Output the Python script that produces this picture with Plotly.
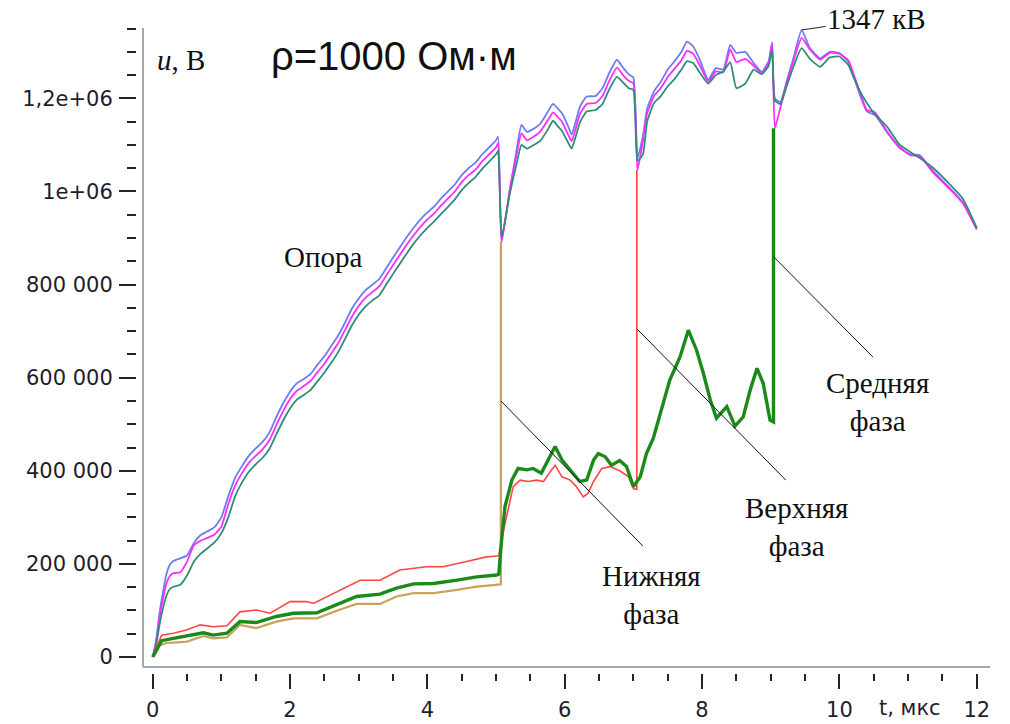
import plotly.graph_objects as go

# ---------------- data (t in мкс, u in кВ) ----------------
T_TOWER = [0.0, 0.05, 0.1, 0.15, 0.2, 0.25, 0.3, 0.4, 0.5, 0.6, 0.7, 0.8, 0.9, 1.0,
           1.1, 1.2, 1.3, 1.4, 1.5, 1.6, 1.7, 1.8, 1.9, 2.0, 2.1, 2.2, 2.3, 2.4, 2.5,
           2.6, 2.7, 2.8, 2.9, 3.0, 3.1, 3.2, 3.3, 3.4, 3.5, 3.6, 3.7, 3.8, 3.9, 4.0,
           4.1, 4.2, 4.3, 4.4, 4.5, 4.6, 4.7, 4.8, 4.9, 5.0, 5.03, 5.08, 5.2, 5.3,
           5.37, 5.45, 5.55, 5.64, 5.75, 5.83, 5.9, 5.96, 6.05, 6.1, 6.16, 6.22, 6.32,
           6.45, 6.55, 6.65, 6.76, 6.85, 6.93, 7.0, 7.06, 7.14, 7.2, 7.3, 7.4, 7.5,
           7.6, 7.7, 7.78, 7.87, 7.97, 8.09, 8.2, 8.31, 8.41, 8.5, 8.63, 8.75, 8.87,
           8.97, 9.02, 9.06, 9.14, 9.23, 9.33, 9.45, 9.57, 9.72, 9.86, 10.0, 10.13,
           10.2, 10.3, 10.4, 10.52, 10.69, 10.88, 11.03, 11.17, 11.37, 11.61, 11.8, 12.0]

U_TOWER_BLUE = [0, 35, 95, 140, 178, 198, 206, 212, 218, 245, 262, 270, 279, 300,
                345, 385, 410, 432, 448, 462, 482, 515, 545, 570, 588, 597, 608, 628, 646,
                668, 690, 718, 748, 770, 788, 800, 812, 835, 858, 880, 902, 922, 940, 955,
                968, 985, 1000, 1015, 1035, 1050, 1062, 1080, 1095, 1110, 1118, 895, 1000, 1090,
                1143, 1128, 1135, 1145, 1170, 1188, 1178, 1168, 1140, 1122, 1150, 1182, 1204,
                1205, 1222, 1255, 1283, 1266, 1252, 1245, 1072, 1120, 1178, 1215, 1236, 1262,
                1280, 1300, 1322, 1312, 1282, 1240, 1265, 1262, 1315, 1298, 1300, 1276, 1257,
                1280, 1320, 1200, 1192, 1236, 1286, 1347, 1308, 1286, 1300, 1297, 1279,
                1250, 1207, 1172, 1164, 1128, 1093, 1080, 1078, 1043, 1007, 976, 920]

U_TOWER_MAGENTA = [0, 30, 85, 125, 158, 174, 180, 182, 205, 240, 250, 256, 263, 280,
                   328, 368, 395, 417, 432, 446, 466, 498, 528, 554, 572, 582, 593, 612, 630,
                   652, 674, 702, 731, 754, 772, 784, 796, 819, 842, 864, 886, 906, 924, 940,
                   953, 970, 985, 1000, 1020, 1035, 1047, 1065, 1080, 1095, 1104, 890, 1005, 1080,
                   1125, 1110, 1118, 1128, 1152, 1170, 1160, 1150, 1122, 1108, 1135, 1166, 1188,
                   1190, 1205, 1238, 1266, 1250, 1238, 1232, 1046, 1110, 1168, 1205, 1222, 1246,
                   1264, 1282, 1302, 1296, 1270, 1236, 1258, 1256, 1305, 1278, 1285, 1270, 1255,
                   1276, 1318, 1136, 1180, 1230, 1280, 1330, 1305, 1283, 1298, 1296, 1282,
                   1255, 1212, 1175, 1170, 1130, 1095, 1078, 1076, 1040, 1005, 974, 918]

U_TOWER_TEAL = [0, 25, 70, 105, 132, 146, 151, 155, 175, 205, 222, 234, 246, 266,
                300, 345, 375, 398, 414, 428, 447, 478, 508, 534, 553, 563, 574, 592, 611,
                632, 655, 683, 712, 735, 753, 766, 777, 800, 823, 845, 867, 888, 906, 922,
                936, 952, 967, 983, 1003, 1018, 1031, 1049, 1064, 1080, 1088, 900, 995, 1060,
                1100, 1092, 1100, 1108, 1132, 1152, 1140, 1130, 1105, 1092, 1118, 1148, 1172,
                1175, 1188, 1220, 1246, 1234, 1222, 1218, 1066, 1080, 1150, 1190, 1205, 1226,
                1242, 1262, 1280, 1276, 1255, 1232, 1250, 1258, 1278, 1222, 1232, 1262, 1252,
                1270, 1305, 1195, 1188, 1225, 1268, 1308, 1285, 1268, 1288, 1290, 1272,
                1248, 1215, 1190, 1165, 1140, 1100, 1085, 1072, 1050, 1015, 984, 922]

# Нижняя фаза (lower phase)
T_LOW = [0.0, 0.05, 0.1, 0.2, 0.3, 0.5, 0.74, 0.88, 1.08, 1.27, 1.51, 1.8, 2.05, 2.39,
         2.73, 2.97, 3.31, 3.55, 3.8, 4.09, 4.43, 4.72, 5.0, 5.07, 5.07]
U_LOW = [0, 10, 25, 30, 31, 33, 45, 40, 42, 69, 62, 76, 83, 83,
         102, 114, 114, 130, 137, 137, 144, 151, 155, 156, 893]

# Верхняя фаза (upper phase)
T_UP = [0.0, 0.06, 0.13, 0.3, 0.49, 0.69, 0.88, 1.08, 1.27, 1.51, 1.71, 2.0, 2.24, 2.34,
        2.63, 3.02, 3.31, 3.6, 3.99, 4.23, 4.57, 4.86, 5.01, 5.04, 5.1, 5.15, 5.25, 5.35,
        5.47, 5.59, 5.69, 5.79, 5.86, 5.96, 6.08, 6.17, 6.27, 6.34, 6.42, 6.54, 6.66,
        6.8, 6.93, 7.0, 7.05, 7.05]
U_UP = [0, 20, 47, 51, 58, 69, 65, 67, 97, 101, 94, 119, 119, 115,
        137, 165, 165, 187, 194, 194, 205, 215, 217, 218, 266, 301, 366, 380,
        377, 380, 377, 398, 412, 387, 380, 366, 344, 352, 377, 405, 409,
        400, 387, 362, 360, 1046]

# Средняя фаза (middle phase)
T_MID = [0.0, 0.06, 0.13, 0.3, 0.49, 0.74, 0.88, 1.08, 1.27, 1.51, 1.8, 2.05, 2.39, 2.73,
         2.97, 3.31, 3.55, 3.8, 4.09, 4.43, 4.72, 5.01, 5.04, 5.08, 5.13, 5.23, 5.32, 5.45,
         5.54, 5.66, 5.76, 5.86, 5.96, 6.08, 6.22, 6.32, 6.42, 6.49, 6.59, 6.68, 6.8, 6.9,
         7.0, 7.1, 7.19, 7.29, 7.41, 7.53, 7.68, 7.8, 7.92, 8.02, 8.12, 8.21, 8.36, 8.48,
         8.6, 8.7, 8.8, 8.89, 8.99, 9.04, 9.04]
U_MID = [0, 15, 35, 40, 45, 52, 47, 51, 76, 74, 87, 94, 95, 115,
         130, 135, 148, 157, 158, 165, 172, 176, 178, 250, 323, 380, 405, 402,
         405, 395, 423, 452, 423, 402, 377, 380, 423, 437, 430, 412, 422, 409,
         366, 387, 437, 470, 531, 595, 645, 702, 659, 609, 552, 513, 538, 496,
         516, 573, 620, 588, 509, 505, 1136]

X_TICKS = [0, 2, 4, 6, 8, 10, 12]
X_TICK_TEXT = ["0", "2", "4", "6", "8", "10", "12"]
X_MID_TICKS = [1, 3, 5, 7, 9, 11]
Y_TICKS = [0, 200, 400, 600, 800, 1000, 1200]
Y_TICK_TEXT = ["0", "200 000", "400 000", "600 000", "800 000", "1e+06", "1,2e+06"]
Y_MID_TICKS = [100, 300, 500, 700, 900, 1100, 1300]
PEAK_T, PEAK_U = 9.45, 1347

for a, b in [(T_TOWER, U_TOWER_BLUE), (T_TOWER, U_TOWER_MAGENTA), (T_TOWER, U_TOWER_TEAL),
             (T_LOW, U_LOW), (T_UP, U_UP), (T_MID, U_MID)]:
    assert len(a) == len(b), (len(a), len(b))

# ---------------- layout geometry ----------------
W, H = 1010, 724
ML, MR, MT, MB = 137, 20, 28, 51
X_RANGE = [-0.2286, 12.193]
Y_RANGE = [-34.4, 1351.2]
PW, PH = W - ML - MR, H - MT - MB


def px_x(px):
    return (px - ML) / PW


def px_y(py):
    return (H - MB - py) / PH


TICK_COLOR = "#23232e"
AXIS_LINE = "#a4a7ad"
TICK_FONT = dict(family="DejaVu Sans", size=21, color="#1e1e2a")
SERIF = dict(family="Liberation Serif", size=29, color="#111111")

fig = go.Figure()


def add_line(t, u, color, width, smooth):
    line = dict(color=color, width=width)
    if smooth:
        line.update(shape="spline", smoothing=0.45)
    fig.add_trace(go.Scatter(x=t, y=u, mode="lines", line=line, hoverinfo="skip"))


add_line(T_TOWER, U_TOWER_BLUE, "#6d7cf0", 1.8, True)
add_line(T_TOWER, U_TOWER_MAGENTA, "#ff2bff", 1.8, True)
add_line(T_TOWER, U_TOWER_TEAL, "#2f8c7a", 1.8, True)
add_line(T_LOW, U_LOW, "#c9a25e", 2.2, False)
add_line(T_UP, U_UP, "#ff4545", 1.6, False)
add_line(T_MID, U_MID, "#1b8a1b", 3.4, False)

common = dict(showgrid=False, zeroline=False, showline=False, ticks="outside",
              tickwidth=2, tickcolor=TICK_COLOR, automargin=False)

fig.update_layout(
    width=W, height=H, margin=dict(l=ML, r=MR, t=MT, b=MB, pad=0, autoexpand=False),
    paper_bgcolor="white", plot_bgcolor="white", showlegend=False,
    xaxis=dict(range=X_RANGE, tickvals=X_TICKS, ticktext=X_TICK_TEXT, ticklen=15,
               tickfont=TICK_FONT, ticklabelstandoff=3,
               minor=dict(ticks="outside", tick0=0, dtick=0.5, ticklen=7, tickwidth=2,
                          tickcolor=TICK_COLOR, showgrid=False),
               **common),
    xaxis2=dict(range=X_RANGE, overlaying="x", anchor="y", side="bottom",
                tickvals=X_MID_TICKS, ticklen=11, showticklabels=False, **common),
    yaxis=dict(range=Y_RANGE, tickvals=Y_TICKS, ticktext=Y_TICK_TEXT, ticklen=17,
               tickfont=TICK_FONT, ticklabelstandoff=2,
               minor=dict(ticks="outside", tick0=0, dtick=50, ticklen=9, tickwidth=2,
                          tickcolor=TICK_COLOR, showgrid=False),
               **common),
    yaxis2=dict(range=Y_RANGE, overlaying="y", anchor="x", side="left",
                tickvals=Y_MID_TICKS, ticklen=13, showticklabels=False, **common),
)

# detached axis lines
fig.add_shape(type="line", xref="paper", yref="paper", x0=px_x(143), x1=px_x(143),
              y0=px_y(667), y1=1, line=dict(color=AXIS_LINE, width=2))
fig.add_shape(type="line", xref="paper", yref="paper", x0=px_x(143), x1=1,
              y0=px_y(667), y1=px_y(667), line=dict(color=AXIS_LINE, width=2))

# leader lines to the phase labels
for (x0, y0, x1, y1) in [(5.07, 550, 7.14, 238), (7.05, 705, 9.22, 380), (9.04, 860, 10.49, 644)]:
    fig.add_shape(type="line", xref="x", yref="y", x0=x0, y0=y0, x1=x1, y1=y1,
                  line=dict(color="#111111", width=1))

ann = [
    dict(x=2.48, y=859, text="Опора"),
    dict(x=7.27, y=134, text="Нижняя<br>фаза"),
    dict(x=9.38, y=280, text="Верхняя<br>фаза"),
    dict(x=10.56, y=547, text="Средняя<br>фаза"),
]
for a in ann:
    fig.add_annotation(x=a["x"], y=a["y"], xref="x", yref="y", text=a["text"],
                       showarrow=False, font=SERIF, xanchor="center", yanchor="middle")

fig.add_annotation(x=px_x(155), y=px_y(60), xref="paper", yref="paper",
                   text="<i>u</i>, В", showarrow=False, font=SERIF,
                   xanchor="left", yanchor="middle")
fig.add_annotation(x=px_x(393.5), y=px_y(56), xref="paper", yref="paper",
                   text="ρ=1000 Ом·м", showarrow=False,
                   font=dict(family="Liberation Sans", size=40, color="#111111"),
                   xanchor="center", yanchor="middle")
fig.add_annotation(x=px_x(910), y=px_y(708), xref="paper", yref="paper",
                   text="t, мкс", showarrow=False, font=TICK_FONT,
                   xanchor="center", yanchor="middle")
fig.add_annotation(x=PEAK_T, y=PEAK_U, xref="x", yref="y", text="1347 кВ",
                   showarrow=True, arrowhead=0, arrowwidth=1, arrowcolor="#222222",
                   ax=75, ay=-11, font=SERIF, xanchor="center", yanchor="middle")

fig.write_html("out.html")
